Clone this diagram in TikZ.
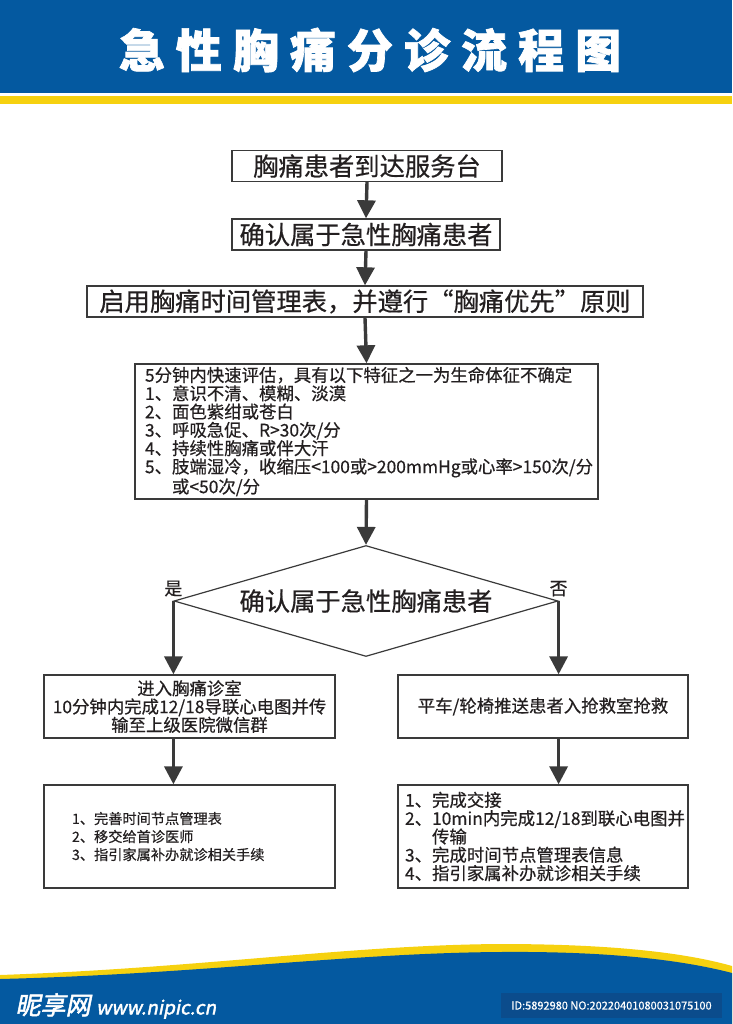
\documentclass[tikz,border=0pt]{standalone}
\usepackage{fontspec}
\setmainfont{Noto Sans CJK SC}[FakeBold=0.5]
\newfontfamily\titlefont[FakeBold=1.5]{Noto Sans CJK SC}
\newfontfamily\wmfont[FakeSlant=0.2,FakeBold=2]{Noto Sans CJK SC}
\usepackage{tikz}
\usetikzlibrary{shapes.geometric, arrows.meta, positioning, calc}

\definecolor{hdblue}{HTML}{0459A0}
\definecolor{idblue}{HTML}{0B4C8C}
\definecolor{hdyellow}{HTML}{F6D10F}
\definecolor{ink}{HTML}{231F20}
\definecolor{edge}{HTML}{3A3A3A}

\begin{document}
\begin{tikzpicture}[
  x=1pt, y=-1pt,
  box/.style={rectangle, draw=edge, line width=1.4pt, fill=white, inner sep=0pt, text=ink},
  bigtxt/.style={font=\fontsize{25.3}{28}\selectfont},
  midtxt/.style={font=\fontsize{17.4}{18.3}\selectfont},
  smalltxt/.style={font=\fontsize{14.2}{18}\selectfont},
  arrow/.style={-{Triangle[length=18pt, width=18pt]}, line width=3.4pt, draw=edge}
]
  \useasboundingbox (0,0) rectangle (732,1024);

  % header
  \fill[hdblue] (0,0) rectangle (732,93);
  \fill[hdyellow] (0,96) rectangle (732,104);
  \node[text=white, font=\titlefont\fontsize{46}{50}\selectfont\bfseries\addfontfeature{LetterSpace=24}] (title) at (370,50) {急性胸痛分诊流程图};

  % main chain
  \node[box, bigtxt, minimum width=270, minimum height=31] (arrive) at (367,166) {胸痛患者到达服务台};
  \node[box, bigtxt, minimum width=268, minimum height=31] (confirm) at (366,234.5) {确认属于急性胸痛患者};
  \node[box, bigtxt, minimum width=556, minimum height=31] (start) at (365,301.5) {启用胸痛时间管理表，并遵行“胸痛优先”原则};
  \node[box, midtxt, minimum width=463, minimum height=135, text width=443, align=left] (assess) at (366.5,431.5) {%
    5分钟内快速评估，具有以下特征之一为生命体征不确定\\
    1、意识不清、模糊、淡漠\\
    2、面色紫绀或苍白\\
    3、呼吸急促、R>30次/分\\
    4、持续性胸痛或伴大汗\\
    5、肢端湿冷，收缩压<100或>200mmHg或心率>150次/分\\
    \phantom{5、}或<50次/分};
  \node[diamond, draw=edge, line width=1.2pt, fill=white, text=ink, bigtxt, inner sep=0pt,
        aspect=3.46, minimum width=384, minimum height=111] (check) at (366,601) {确认属于急性胸痛患者};
  \node[above=1pt of check.west, text=ink, font=\fontsize{18}{20}\selectfont] (yes) {是};
  \node[above=1pt of check.east, text=ink, font=\fontsize{18}{20}\selectfont] (no) {否};

  % two branches
  \node[box, midtxt, minimum width=291, minimum height=63, align=center] (room) at (189.5,706.5) {进入胸痛诊室\\10分钟内完成12/18导联心电图并传\\输至上级医院微信群};
  \node[box, midtxt, minimum width=290, minimum height=63] (rescue) at (543,706.5) {平车/轮椅推送患者入抢救室抢救};
  \node[box, smalltxt, minimum width=291, minimum height=103, text width=235, align=left] (doneL) at (189.5,836.5) {%
    1、完善时间节点管理表\\
    2、移交给首诊医师\\
    3、指引家属补办就诊相关手续};
  \node[box, midtxt, minimum width=290, minimum height=103, text width=276, align=left] (doneR) at (543,836.5) {%
    1、完成交接\\
    2、10min内完成12/18到联心电图并\\
    \phantom{2、}传输\\
    3、完成时间节点管理表信息\\
    4、指引家属补办就诊相关手续};

  \draw[arrow] (arrive.south) -- (confirm.north);
  \draw[arrow] (confirm.south) -- (start.north);
  \draw[arrow] (start.south) -- (assess.north);
  \draw[arrow] (assess.south) -- (check.north);
  \draw[arrow] (check.west) -- (check.west |- room.north);
  \draw[arrow] (check.east) -- (check.east |- rescue.north);
  \draw[arrow] (check.west |- room.south) -- (check.west |- doneL.north);
  \draw[arrow] (check.east |- rescue.south) -- (check.east |- doneR.north);

  % footer
  \fill[hdyellow] (0,975) .. controls (200,968) and (350,945) .. (500,944) .. controls (620,944) and (690,954) .. (732,966) -- (732,1024) -- (0,1024) -- cycle;
  \fill[hdblue] (0,979) .. controls (200,974) and (350,953) .. (500,952) .. controls (620,951) and (690,962) .. (732,973) -- (732,1024) -- (0,1024) -- cycle;
  \node[text=white, anchor=west, font=\wmfont\fontsize{25}{28}\selectfont] (site) at (12,1006) {昵享网 \fontsize{19}{22}\selectfont www.nipic.cn};
  \node[fill=idblue, text=white, minimum width=221, minimum height=25, inner sep=0pt, font=\fontsize{11}{13}\selectfont] (imgid) at (611.5,1005.5) {ID:5892980 NO:20220401080031075100};
\end{tikzpicture}
\end{document}
